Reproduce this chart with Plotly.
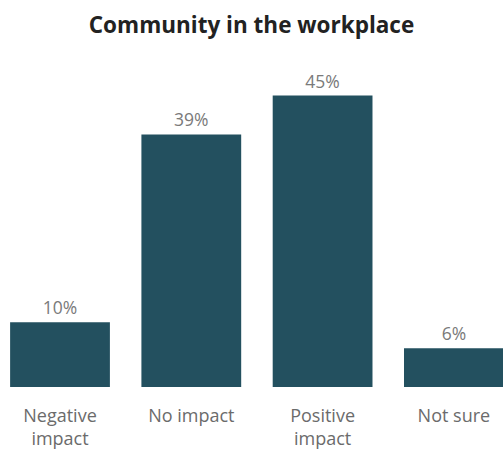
import plotly.graph_objects as go

categories = ["Negative<br>impact", "No impact", "Positive<br>impact", "Not sure"]
values = [10, 39, 45, 6]
labels = ["10%", "39%", "45%", "6%"]

fig = go.Figure(
    go.Bar(
        x=categories,
        y=values,
        width=0.76,
        marker=dict(color="#23505f", line=dict(width=0)),
        text=labels,
        textposition="outside",
        textfont=dict(family="Open Sans", size=17.5, color="#7a7a7a"),
        cliponaxis=False,
        hoverinfo="skip",
    )
)

fig.update_layout(
    width=503,
    height=457,
    margin=dict(l=0, r=0, t=60, b=70),
    paper_bgcolor="white",
    plot_bgcolor="white",
    showlegend=False,
    title=dict(
        text="<b>Community in the workplace</b>",
        x=0.5,
        xanchor="center",
        y=0.945,
        yanchor="middle",
        font=dict(family="Open Sans", size=22.5, color="#222222"),
    ),
    xaxis=dict(
        range=[-0.457, 3.374],
        showgrid=False,
        zeroline=False,
        showline=False,
        ticks="outside",
        ticklen=12,
        tickcolor="rgba(0,0,0,0)",
        tickfont=dict(family="Open Sans", size=18, color="#6b6b6b"),
    ),
    yaxis=dict(
        range=[0, 50.5],
        visible=False,
    ),
)

fig.write_html("out.html")
